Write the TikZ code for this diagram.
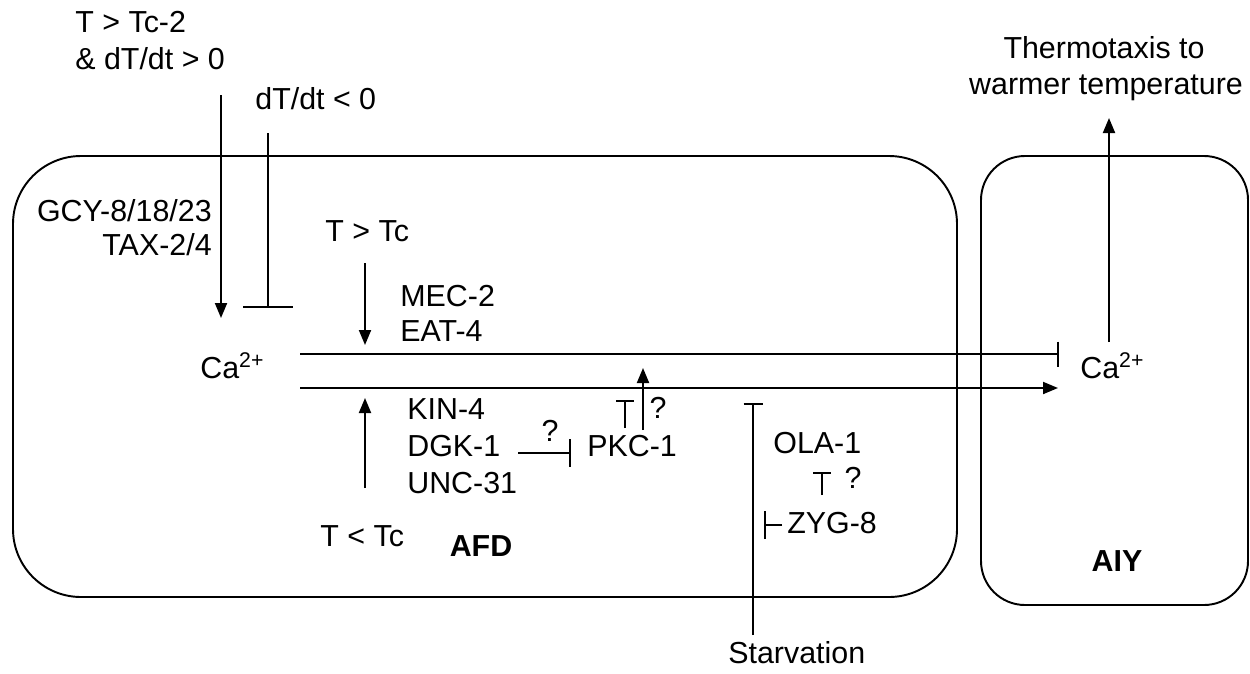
\documentclass[tikz,border=0pt]{standalone}
\usepackage{fontspec}
\setmainfont{Liberation Sans}
\usetikzlibrary{arrows.meta}
\tikzset{
    lbl/.style={inner sep=0pt, text height=0.72em, text depth=0pt, font=\fontsize{17.3}{20}\selectfont},
    lblw/.style={lbl, anchor=west},
    lble/.style={lbl, anchor=east},
    cell/.style={draw, line width=1.1pt},
    act/.style={line width=1.1pt, -{Triangle[length=0.3cm,width=0.24cm]}},
    inh/.style={line width=1.1pt, -{Bar[width=#1]}},
    inh/.default=0.36cm
}

\begin{document}
\begin{tikzpicture}[x=0.02cm, y=-0.02cm]
        \useasboundingbox (0,0) rectangle (1250,673);
        % cells
        \draw[cell, rounded corners=1.36cm] (13,156) rectangle (957,597);
        \draw[cell, rounded corners=0.88cm] (981,156) rectangle (1248,605);
        \node[lbl, font=\fontsize{17.3}{20}\selectfont\bfseries] (afd) at (481,550) {AFD};
        \node[lbl, font=\fontsize{17.3}{20}\selectfont\bfseries] (aiy) at (1117,565) {AIY};

        % inputs at the top
        \node[lblw] (tc2) at (75,26) {T > Tc-2};
        \node[lblw] (rise) at (75,63) {\& dT/dt > 0};
        \node[lblw] (fall) at (255,103) {dT/dt < 0};
        \node[lble] (gcy) at (212,215) {GCY-8/18/23};
        \node[lble] (tax) at (212,249) {TAX-2/4};
        \coordinate (r0) at (221,95);
        \coordinate (r1) at (221,318);
        \coordinate (f0) at (268,133);
        \coordinate (f1) at (268,308);
        \draw[act] (r0) -- (r1);
        \draw[inh=1cm] (f0) -- (f1);

        % AFD calcium and outputs
        \node[lblw] (caafd) at (200,372) {Ca\textsuperscript{2+}};
        \node[lblw] (caaiy) at (1080,372) {Ca\textsuperscript{2+}};
        \coordinate (u0) at (300,354);
        \coordinate (u1) at (1059,354);
        \coordinate (l0) at (300,388);
        \coordinate (l1) at (1058,388);
        \draw[inh=0.5cm] (u0) -- (u1);
        \draw[act] (l0) -- (l1);

        % warm side
        \node[lblw] (warm) at (325,235) {T > Tc};
        \node[lblw] (mec) at (400,300) {MEC-2};
        \node[lblw] (eat) at (400,335) {EAT-4};
        \coordinate (w0) at (365,263);
        \coordinate (w1) at (365,345);
        \draw[act] (w0) -- (w1);

        % cold side
        \node[lblw] (cold) at (320,540) {T < Tc};
        \node[lblw] (kin) at (407,413) {KIN-4};
        \node[lblw] (dgk) at (407,450) {DGK-1};
        \node[lblw] (unc) at (407,487) {UNC-31};
        \coordinate (c0) at (365,488);
        \coordinate (c1) at (365,398);
        \draw[act] (c0) -- (c1);

        % PKC-1
        \node[lblw] (pkc) at (587,450) {PKC-1};
        \node[lbl] (q1) at (550,435) {?};
        \node[lbl] (q2) at (658,412) {?};
        \coordinate (d0) at (518,453);
        \coordinate (d1) at (571,453);
        \coordinate (p0) at (643,430);
        \coordinate (p1) at (643,368);
        \coordinate (t0) at (625,428);
        \coordinate (t1) at (625,400);
        \draw[inh=0.56cm] (d0) -- (d1);
        \draw[act] (p0) -- (p1);
        \draw[inh] (t0) -- (t1);

        % starvation
        \node[lblw] (starv) at (728,657) {Starvation};
        \node[lblw] (ola) at (773,447) {OLA-1};
        \node[lbl] (q3) at (853,482) {?};
        \node[lblw] (zyg) at (787,527) {ZYG-8};
        \coordinate (s0) at (753,635);
        \coordinate (s1) at (753,403);
        \coordinate (o0) at (822,495);
        \coordinate (o1) at (822,472);
        \coordinate (z0) at (782,525);
        \coordinate (z1) at (764,525);
        \draw[inh=0.38cm] (s0) -- (s1);
        \draw[inh] (o0) -- (o1);
        \draw[inh=0.56cm] (z0) -- (z1);

        % AIY output
        \node[lbl] (thermo) at (1104,52) {Thermotaxis to};
        \node[lbl] (warmer) at (1106,88) {warmer temperature};
        \coordinate (a0) at (1109,342);
        \coordinate (a1) at (1109,118);
        \draw[act] (a0) -- (a1);
    \end{tikzpicture}
\end{document}
